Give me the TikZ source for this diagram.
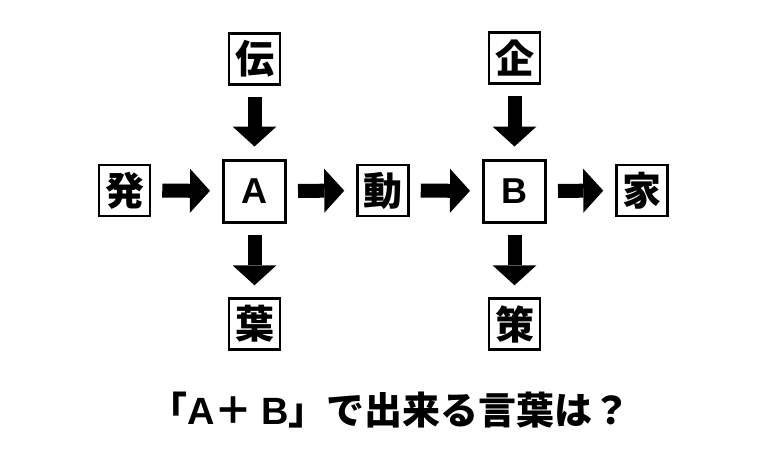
\documentclass[tikz,border=0pt]{standalone}
\usepackage{fontspec}
\newfontfamily\jpfont{Noto Sans CJK JP}
\newfontfamily\latinfont{Liberation Sans}
\usetikzlibrary{arrows.meta}
\tikzset{
  kbox/.style={draw=black, line width=2.5pt, minimum size=51pt, inner sep=0pt,
    font=\jpfont\bfseries\fontsize{39pt}{39pt}\selectfont},
  lbox/.style={draw=black, line width=3pt, minimum size=62pt, inner sep=0pt,
    font=\latinfont\bfseries\fontsize{36pt}{36pt}\selectfont},
  bigarrow/.style={line width=14pt, -{Triangle[width=44pt,length=20pt,line width=0pt]},
    shorten <=11pt, shorten >=12pt},
}
\begin{document}
\begin{tikzpicture}[x=1pt,y=-1pt]
\useasboundingbox[fill=white] (0,0) rectangle (768,450);
\node[kbox] (hatsu) at (124.5,190.5) {発};
\node[lbox] (A) at (254.5,191) {A};
\node[kbox] (dou) at (383,190.5) {動};
\node[lbox] (B) at (514.5,191) {B};
\node[kbox] (ka) at (642,190.5) {家};
\node[kbox] (den) at (254.5,59) {伝};
\node[kbox] (you) at (254.5,324) {葉};
\node[kbox] (ki) at (514.5,58) {企};
\node[kbox] (saku) at (514.5,324) {策};
\draw[bigarrow] (hatsu) -- (A);
\draw[bigarrow] (A) -- (dou);
\draw[bigarrow] (dou) -- (B);
\draw[bigarrow] (B) -- (ka);
\draw[bigarrow] (den) -- (A);
\draw[bigarrow] (A) -- (you);
\draw[bigarrow] (ki) -- (B);
\draw[bigarrow] (B) -- (saku);
\node[font=\jpfont\bfseries\fontsize{38pt}{38pt}\selectfont] (q) at (390,410) {「{\latinfont A}＋ {\latinfont B}」で出来る言葉は？};
\end{tikzpicture}
\end{document}
